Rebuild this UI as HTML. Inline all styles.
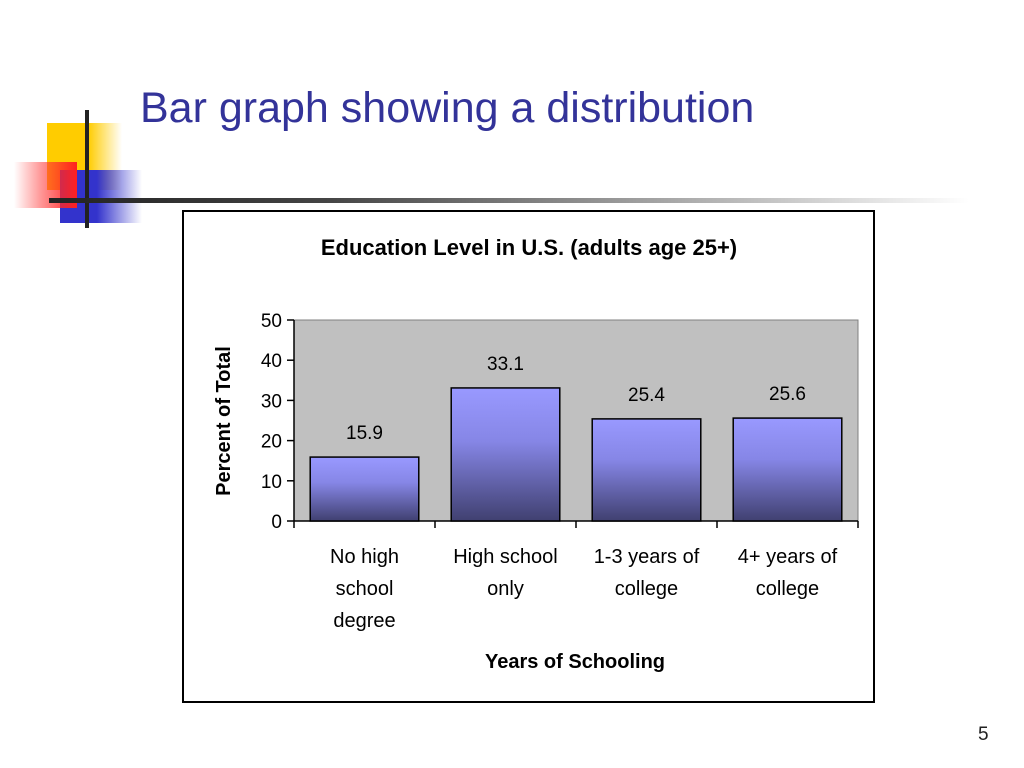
<!DOCTYPE html>
<html><head><meta charset="utf-8"><style>
body{margin:0;width:1024px;height:768px;background:#fff;position:relative;overflow:hidden;font-family:"Liberation Sans",sans-serif}
.a{position:absolute}
</style></head><body>
<div class="a" style="left:47px;top:123px;width:75px;height:67px;background:linear-gradient(to right,#ffcc00 0,#ffcc00 55%,rgba(255,204,0,0))"></div>
<div class="a" style="left:60px;top:170px;width:82px;height:53px;background:linear-gradient(to right,#3333cc 0,#3333cc 45%,rgba(51,51,204,0))"></div>
<div class="a" style="left:14px;top:162px;width:63px;height:46px;background:linear-gradient(to left,#ff2020 0,rgba(255,60,60,0.5) 60%,rgba(255,255,255,0))"></div>
<div class="a" style="left:85px;top:110px;width:4px;height:118px;background:#222"></div>
<div class="a" style="left:49px;top:198px;width:920px;height:5px;background:linear-gradient(to right,#222 0,#444 30%,#bbb 75%,rgba(255,255,255,0))"></div>
<div class="a" style="left:140px;top:84px;font-size:43px;color:#333399;white-space:nowrap">Bar graph showing a distribution</div>
<div class="a" style="left:978px;top:724px;font-size:19px;color:#222">5</div>
<svg class="a" style="left:0;top:0" width="1024" height="768">
<defs><linearGradient id="g" x1="0" y1="0" x2="0" y2="1"><stop offset="0" stop-color="#9999ff"/><stop offset="0.4" stop-color="#8686e6"/><stop offset="1" stop-color="#404070"/></linearGradient></defs>
<rect x="183" y="211" width="691" height="491" fill="#fff" stroke="#000" stroke-width="2"/>
<text x="529" y="255" text-anchor="middle" font-size="22" font-weight="bold">Education Level in U.S. (adults age 25+)</text>
<rect x="294" y="320" width="564" height="201" fill="#c0c0c0" stroke="#808080"/>
<g id="marks"></g>
<text transform="translate(230,421) rotate(-90)" text-anchor="middle" font-size="20" font-weight="bold">Percent of Total</text>
<text x="575" y="668" text-anchor="middle" font-size="20" font-weight="bold">Years of Schooling</text>
</svg>
<script>
const categories=[["No high","school","degree"],["High school","only"],["1-3 years of","college"],["4+ years of","college"]];
const values=[15.9,33.1,25.4,25.6];
const labels=["15.9","33.1","25.4","25.6"];
const ticks=[0,10,20,30,40,50];
const X0=294,X1=858,Y0=521,Y1=320,YMAX=50;
const y=v=>Y0-(v/YMAX)*(Y0-Y1);
const bw=(X1-X0)/categories.length;
const x=i=>X0+i*bw;
const ns="http://www.w3.org/2000/svg",g=document.getElementById('marks');
function mk(t,a){const e=document.createElementNS(ns,t);for(const k in a)e.setAttribute(k,a[k]);g.appendChild(e);return e;}
const ax=mk('line',{x1:X0,y1:Y1,x2:X0,y2:Y0,stroke:'#000','stroke-width':1.5});


const bx=mk('line',{x1:X0,y1:Y0,x2:X1,y2:Y0,stroke:'#000','stroke-width':1.5});


ticks.forEach(t=>{
 const l=mk('line',{x1:X0-7,y1:y(t),x2:X0,y2:y(t),stroke:'#000','stroke-width':1.5});
 
 
 const tx=mk('text',{x:X0-12,y:y(t)+7,'text-anchor':'end','font-size':19});
 tx.textContent=t;
 
 
});
for(let i=0;i<=categories.length;i++){
 const l=mk('line',{x1:x(i),y1:Y0,x2:x(i),y2:Y0+7,stroke:'#000','stroke-width':1.5});
 
 
}
values.forEach((v,i)=>{
 const pad=bw*0.115;
 const r=mk('rect',{x:x(i)+pad,y:y(v),width:bw-2*pad,height:Y0-y(v),fill:'url(#g)',stroke:'#000','stroke-width':1.5});
 
 
 const t=mk('text',{x:x(i)+bw/2,y:y(v)-18,'text-anchor':'middle','font-size':19});
 t.textContent=labels[i];
 
 
 categories[i].forEach((s,j)=>{
  const c=mk('text',{x:x(i)+bw/2,y:563+j*32,'text-anchor':'middle','font-size':20});
  c.textContent=s;
  
  
 });
});
</script>
</body></html>
